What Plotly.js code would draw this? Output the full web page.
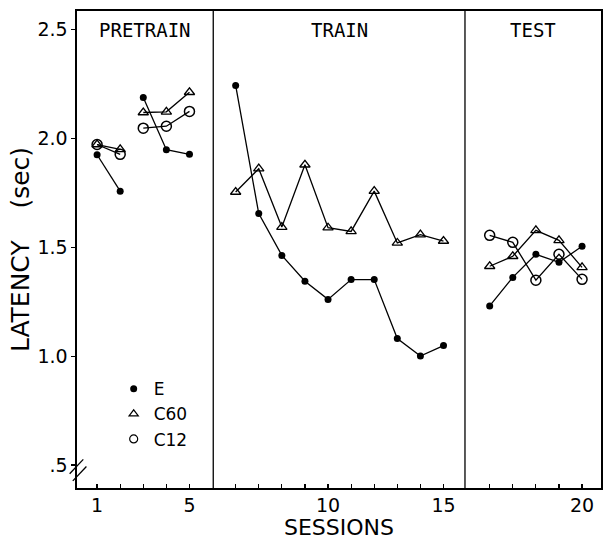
<!DOCTYPE html>
<html>
<head>
<meta charset="utf-8">
<script src="https://cdn.plot.ly/plotly-3.0.1.min.js"></script>
<style>html,body{margin:0;padding:0;background:#fff;}#chart{width:610px;height:540px;}</style>
</head>
<body>
<div id="chart"></div>
<script>
// Sessions and latency (sec)
const sessions = [1,2,3,4,5,6,7,8,9,10,11,12,13,14,15,16,17,18,19,20];
const latencyE   = [1.925,1.758,2.188,1.948,1.927, 2.243,1.655,1.463,1.344,1.261,1.352,1.352,1.081,1.001,1.049, 1.231,1.362,1.468,1.431,1.505];
const latencyC60 = [1.972,1.950,2.119,2.122,2.212, 1.754,1.861,1.593,1.879,1.590,1.573,1.758,1.520,1.558,1.529, 1.413,1.459,1.578,1.532,1.408];
const latencyC12 = [1.972,1.927,2.047,2.056,2.124, null,null,null,null,null,null,null,null,null,null, 1.555,1.523,1.349,1.468,1.353];
const segments = [[1,2],[3,5],[6,15],[16,20]];
const phases = ["PRETRAIN","TRAIN","TEST"];
const tickSessions = [1,5,10,15,20];
const yTickVals = [0.5,1.0,1.5,2.0,2.5];
const yTickText = [".5","1.0","1.5","2.0","2.5"];

// axis position: a gap is left between phases
function pos(s){ return s + (s>=6?1:0) + (s>=16?1:0); }

function build(vals){
  const x=[], y=[];
  segments.forEach((seg,i)=>{
    if(i>0){x.push(null);y.push(null);}
    for(let s=seg[0]; s<=seg[1]; s++){ x.push(pos(s)); y.push(vals[s-1]); }
  });
  return {x,y};
}

const line = {color:'#000', width:1.3};
const dE = build(latencyE), d60 = build(latencyC60), d12 = build(latencyC12);
const traces = [
  {x:d60.x, y:d60.y, mode:'lines+markers', line:line, connectgaps:false, showlegend:false,
   marker:{symbol:'triangle-up-open', size:9, color:'#000', line:{width:1.3,color:'#000'}}},
  {x:d12.x, y:d12.y, mode:'lines+markers', line:line, connectgaps:false, showlegend:false,
   marker:{symbol:'circle-open', size:10, color:'#000', line:{width:1.5,color:'#000'}}},
  {x:dE.x, y:dE.y, mode:'lines+markers', line:line, connectgaps:false, showlegend:false,
   marker:{symbol:'circle', size:7, color:'#000'}},
  {x:[null], y:[null], mode:'markers', name:'E', marker:{symbol:'circle', size:7, color:'#000'}},
  {x:[null], y:[null], mode:'markers', name:'C60', marker:{symbol:'triangle-up-open', size:8, color:'#000', line:{width:1.2,color:'#000'}}},
  {x:[null], y:[null], mode:'markers', name:'C12', marker:{symbol:'circle-open', size:8, color:'#000', line:{width:1.2,color:'#000'}}}
];

const allTicks = sessions.map(pos);
const allText = sessions.map(s => tickSessions.includes(s) ? String(s) : '');

const font = 'DejaVu Sans, Arial, sans-serif';
const mono = 'DejaVu Sans Mono, monospace';
const layout = {
  width:610, height:540,
  paper_bgcolor:'#fff', plot_bgcolor:'#fff',
  margin:{l:77, r:9, t:11, b:52},
  font:{family:font, color:'#000', size:18},
  xaxis:{range:[0.13,22.82], tickvals:allTicks, ticktext:allText, ticks:'inside', ticklen:4, tickwidth:1.2, tickcolor:'#000',
    showline:true, linecolor:'#000', linewidth:1.6, mirror:true, showgrid:false, zeroline:false,
    tickfont:{size:19, family:font}, title:{text:'SESSIONS', font:{size:22, family:font}, standoff:4}},
  yaxis:{range:[0.395,2.585], tickvals:yTickVals, ticktext:yTickText, ticks:'outside', ticklen:4, tickwidth:1.4, tickcolor:'#000',
    showline:true, linecolor:'#000', linewidth:1.6, mirror:true, showgrid:false, zeroline:false,
    tickfont:{size:19, family:font}, title:{text:'LATENCY    (sec)', font:{size:25, family:font}, standoff:0}},
  showlegend:true,
  legend:{x:0.07, y:0.245, xanchor:'left', yanchor:'top', bgcolor:'rgba(0,0,0,0)', font:{size:17, family:font}, itemwidth:30, tracegroupgap:0},
  shapes:[
    {type:'line', xref:'x', yref:'paper', x0:6.03, x1:6.03, y0:0, y1:1, line:{color:'#000', width:1.3}},
    {type:'line', xref:'x', yref:'paper', x0:16.93, x1:16.93, y0:0, y1:1, line:{color:'#000', width:1.3}},
    {type:'line', xref:'paper', yref:'paper', x0:-0.014, x1:0.012, y0:0.03, y1:0.06, line:{color:'#000', width:1.3}},
    {type:'line', xref:'paper', yref:'paper', x0:-0.008, x1:0.018, y0:0.015, y1:0.045, line:{color:'#000', width:1.3}}
  ],
  annotations:[
    {text:phases[0], xref:'x', yref:'paper', x:(0.13+6.03)/2, y:0.961, yanchor:'middle', showarrow:false, font:{family:mono, size:19}},
    {text:phases[1], xref:'x', yref:'paper', x:(6.03+16.93)/2, y:0.961, yanchor:'middle', showarrow:false, font:{family:mono, size:19}},
    {text:phases[2], xref:'x', yref:'paper', x:(16.93+22.82)/2, y:0.961, yanchor:'middle', showarrow:false, font:{family:mono, size:19}}
  ]
};

Plotly.newPlot('chart', traces, layout, {staticPlot:true, displayModeBar:false});
</script>
</body>
</html>
